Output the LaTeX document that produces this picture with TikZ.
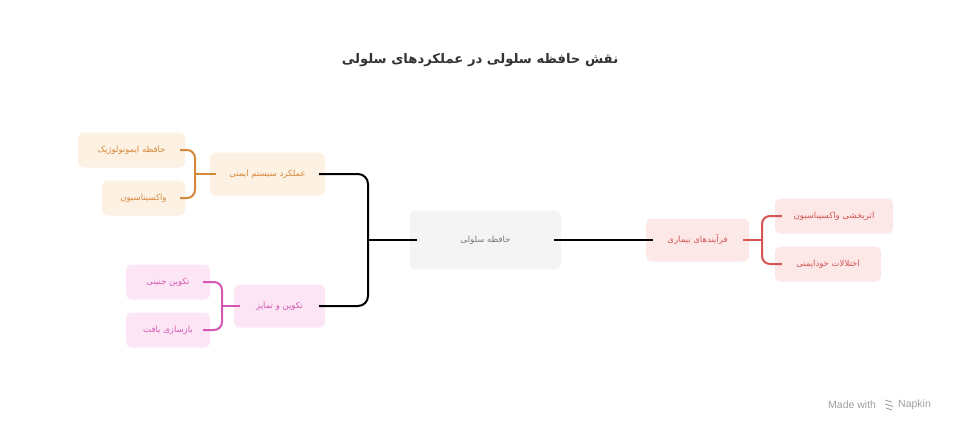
\documentclass[tikz,border=0pt]{standalone}
\usepackage{fontspec}
\setmainfont{Liberation Sans}
\newfontfamily\arabicfont[Script=Arabic]{DejaVu Sans}
\TeXXeTstate=1
\usetikzlibrary{positioning,calc}
\definecolor{titlegray}{HTML}{333333}
\definecolor{hubfill}{HTML}{F4F4F4}
\definecolor{hubtext}{HTML}{7A7A7A}
\definecolor{orangefill}{HTML}{FDF1E4}
\definecolor{orangeline}{HTML}{D4883A}
\definecolor{pinkfill}{HTML}{FCE6F6}
\definecolor{pinkline}{HTML}{D457B3}
\definecolor{redfill}{HTML}{FDE8E8}
\definecolor{redline}{HTML}{D45552}
\definecolor{markgray}{HTML}{A0A0A0}
\newcommand{\fa}[1]{\arabicfont\beginR #1\endR}
\tikzset{
    box/.style={rounded corners=6pt, inner sep=0pt, font=\fontsize{8.5}{10}\selectfont},
    hubbox/.style={box, fill=hubfill, text=hubtext},
    orangebox/.style={box, fill=orangefill, text=orangeline},
    pinkbox/.style={box, fill=pinkfill, text=pinkline},
    redbox/.style={box, fill=redfill, text=redline},
    blackline/.style={line width=2pt, black},
    orangeconn/.style={line width=2pt, orangeline, rounded corners=8pt},
    pinkconn/.style={line width=2pt, pinkline, rounded corners=8pt},
    redconn/.style={line width=2pt, redline, rounded corners=8pt},
    watermark/.style={text=markgray, font=\fontsize{10.5}{12}\selectfont, inner sep=0pt}
}
\begin{document}
\begin{tikzpicture}[x=1pt,y=-1pt]
    \fill[white] (0,0) rectangle (960,432);
    \useasboundingbox (0,0) rectangle (960,432);
    % title
    \node[text=titlegray, font=\fontsize{13.2}{16}\selectfont\bfseries] (title) at (480,60)
        {\fa{نقش حافظه سلولی در عملکردهای سلولی}};
    % central node
    \node[hubbox, minimum width=151pt, minimum height=59pt] (memory) at (485.5,240) {\fa{حافظه سلولی}};
    % left branches
    \node[orangebox, minimum width=115pt, minimum height=43pt] (immune) at (267.5,174) {\fa{عملکرد سیستم ایمنی}};
    \node[orangebox, minimum width=107pt, minimum height=35pt] (immunomem) at (131.5,150) {\fa{حافظه ایمونولوژیک}};
    \node[orangebox, minimum width=83pt, minimum height=35pt] (vaccine) at (143.5,198) {\fa{واکسیناسیون}};
    \node[pinkbox, minimum width=91pt, minimum height=43pt] (develop) at (279.5,306) {\fa{تکوین و تمایز}};
    \node[pinkbox, minimum width=84pt, minimum height=35pt] (embryo) at (168,282) {\fa{تکوین جنینی}};
    \node[pinkbox, minimum width=84pt, minimum height=35pt] (tissue) at (168,330) {\fa{بازسازی بافت}};
    % right branch
    \node[redbox, minimum width=103pt, minimum height=43pt] (disease) at (697.5,240) {\fa{فرآیندهای بیماری}};
    \node[redbox, minimum width=118pt, minimum height=35pt] (efficacy) at (834,216) {\fa{اثربخشی واکسیناسیون}};
    \node[redbox, minimum width=106pt, minimum height=35pt] (autoimmune) at (828,264) {\fa{اختلالات خودایمنی}};
    % connectors
    \coordinate (hubleft) at (368,240);
    \draw[blackline] ([xshift=7pt]memory.west) -- (hubleft);
    \draw[blackline, rounded corners=10pt] ([xshift=-6pt]immune.east) -| (hubleft) |- ([xshift=-6pt]develop.east);
    \draw[blackline] ([xshift=-7pt]memory.east) -- ([xshift=7pt]disease.west);
    \coordinate (immunejoint) at (195,174);
    \draw[orangeconn] ([xshift=6pt]immune.west) -- (immunejoint);
    \draw[orangeconn] ([xshift=-5pt]immunomem.east) -| (immunejoint) |- ([xshift=-5pt]vaccine.east);
    \coordinate (developjoint) at (222,306);
    \draw[pinkconn] ([xshift=6pt]develop.west) -- (developjoint);
    \draw[pinkconn] ([xshift=-7pt]embryo.east) -| (developjoint) |- ([xshift=-7pt]tissue.east);
    \coordinate (diseasejoint) at (762,240);
    \draw[redconn] ([xshift=-6pt]disease.east) -- (diseasejoint);
    \draw[redconn] ([xshift=7pt]efficacy.west) -| (diseasejoint) |- ([xshift=7pt]autoimmune.west);
    % watermark
    \node[watermark, anchor=west] (madewith) at (828,405) {Made with};
    \node[watermark, anchor=west] (napkin) at (898,405) {Napkin};
    \draw[markgray, line width=0.9pt] (885,400) -- (892,402) (885,404) -- (893,406.5) (886,408) -- (892,410);
\end{tikzpicture}
\end{document}
